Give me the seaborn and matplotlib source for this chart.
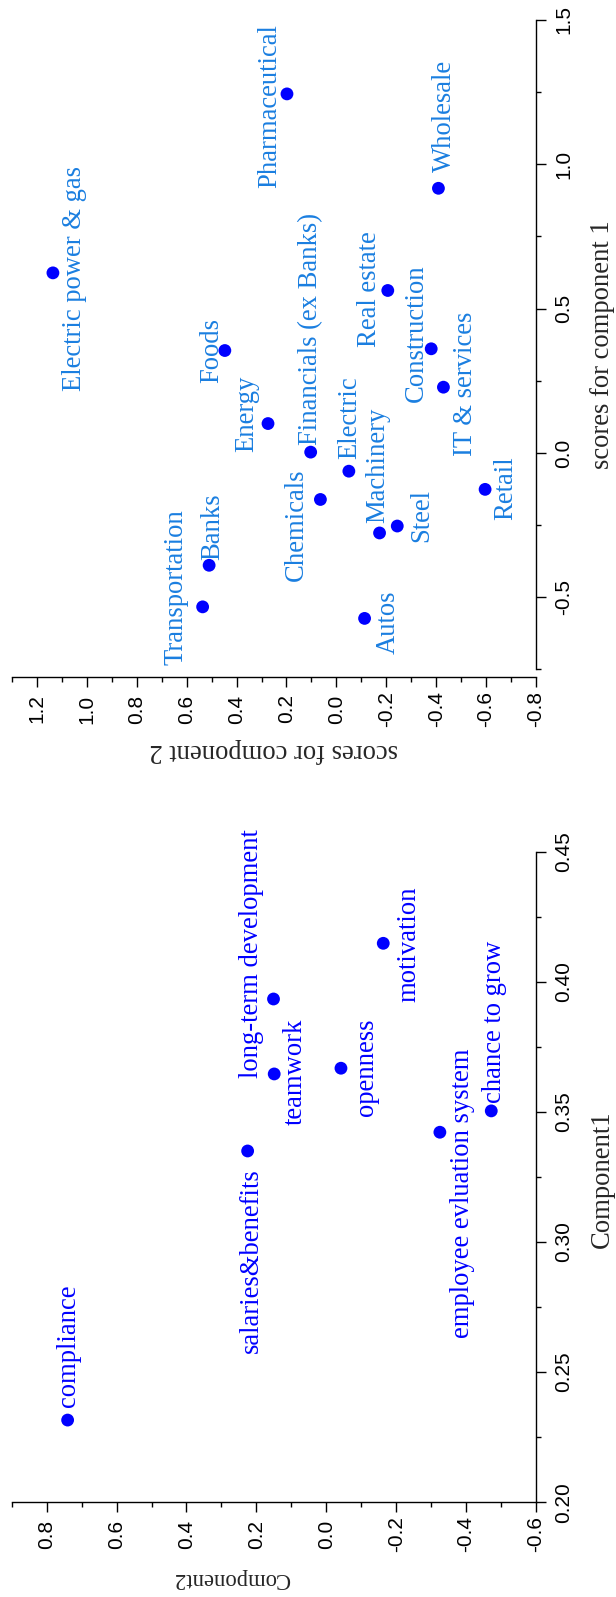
import seaborn as sns
import matplotlib.pyplot as plt
import matplotlib.ticker as mticker
import pandas as pd

sns.set_theme(style='white')
plt.rcParams['font.family'] = ['Liberation Serif', 'DejaVu Serif']
plt.rcParams['axes.unicode_minus'] = False

# industry scores (upper panel)
industries = ['Electric power & gas', 'Pharmaceutical', 'Foods', 'Wholesale', 'Real estate',
              'Construction', 'IT & services', 'Energy', 'Financials (ex Banks)', 'Chemicals',
              'Electric', 'Machinery', 'Steel', 'Retail', 'Autos', 'Transportation', 'Banks']
ind_comp1 = [0.624, 1.244, 0.355, 0.917, 0.563, 0.361, 0.228, 0.102, 0.003, -0.161,
             -0.063, -0.277, -0.253, -0.126, -0.573, -0.533, -0.389]
ind_comp2 = [1.136, 0.198, 0.447, -0.409, -0.206, -0.38, -0.429, 0.274, 0.103, 0.064,
             -0.05, -0.173, -0.244, -0.596, -0.113, 0.536, 0.51]

# factor loadings (lower panel)
factors = ['compliance', 'salaries&benefits', 'teamwork', 'long-term development', 'openness',
           'motivation', 'employee evluation system', 'chance to grow']
fac_comp1 = [0.2316, 0.335, 0.3646, 0.3934, 0.3668, 0.4148, 0.3422, 0.3504]
fac_comp2 = [0.74, 0.225, 0.149, 0.151, -0.042, -0.163, -0.325, -0.472]

# tick values / labels
top_h_ticks = [1.2, 1.0, 0.8, 0.6, 0.4, 0.2, 0.0, -0.2, -0.4, -0.6, -0.8]
top_h_labels = ['1.2', '1.0', '0.8', '0.6', '0.4', '0.2', '0.0', '-0.2', '-0.4', '-0.6', '-0.8']
top_v_ticks = [-0.5, 0.0, 0.5, 1.0, 1.5]
top_v_labels = ['-0.5', '0.0', '0.5', '1.0', '1.5']
bot_h_ticks = [0.8, 0.6, 0.4, 0.2, 0.0, -0.2, -0.4, -0.6]
bot_h_labels = ['0.8', '0.6', '0.4', '0.2', '0.0', '-0.2', '-0.4', '-0.6']
bot_v_ticks = [0.20, 0.25, 0.30, 0.35, 0.40, 0.45]
bot_v_labels = ['0.20', '0.25', '0.30', '0.35', '0.40', '0.45']

# label offsets in pixels (dx right, dy up) from each point
ind_offsets = {
    'Electric power & gas': (22, -6), 'Pharmaceutical': (-17, -12), 'Foods': (-13, 0),
    'Wholesale': (6, 72), 'Real estate': (-18, 1), 'Construction': (-15, 16),
    'IT & services': (22, 3), 'Energy': (-21, 10), 'Financials (ex Banks)': (0, 123),
    'Chemicals': (-24, -25), 'Electric': (1, 53), 'Machinery': (-2, 68), 'Steel': (24, 11),
    'Retail': (21, 1), 'Autos': (24, -4), 'Transportation': (-27, 20), 'Banks': (4, 39),
}
fac_offsets = {
    'compliance': (1, 74), 'salaries&benefits': (4, -110), 'teamwork': (21, 2),
    'long-term development': (-22, 45), 'openness': (26, 1), 'motivation': (26, -1),
    'employee evluation system': (23, -61), 'chance to grow': (3, 89),
}

fig = plt.figure(figsize=(6.16, 15.97), dpi=100)
ax1 = fig.add_axes([12 / 616, 1 - 677 / 1597, 524 / 616, 657 / 1597])
ax2 = fig.add_axes([11.7 / 616, 1 - 1502.3 / 1597, 524.3 / 616, 650.6 / 1597])

df_ind = pd.DataFrame({'name': industries, 'c1': ind_comp1, 'c2': ind_comp2})
df_fac = pd.DataFrame({'name': factors, 'c1': fac_comp1, 'c2': fac_comp2})

sns.scatterplot(data=df_ind, x='c2', y='c1', ax=ax1, color='#0000ff', s=85, edgecolor='none')
sns.scatterplot(data=df_fac, x='c2', y='c1', ax=ax2, color='#0000ff', s=85, edgecolor='none')

for _, r in df_ind.iterrows():
    dx, dy = ind_offsets[r['name']]
    ax1.annotate(r['name'], (r['c2'], r['c1']), xytext=(dx, dy), textcoords='offset pixels',
                 rotation=90, ha='center', va='center', fontsize=19.2, color='#1a7ee0')
for _, r in df_fac.iterrows():
    dx, dy = fac_offsets[r['name']]
    ax2.annotate(r['name'], (r['c2'], r['c1']), xytext=(dx, dy), textcoords='offset pixels',
                 rotation=90, ha='center', va='center', fontsize=19.2, color='#0000ff')


def style(ax, xlim, ylim, hticks, hlabels, hminor, vticks, vlabels, vminor, vbounds):
    ax.set_xlim(*xlim)
    ax.set_ylim(*ylim)
    for s in ['left', 'top']:
        ax.spines[s].set_visible(False)
    for s in ['bottom', 'right']:
        ax.spines[s].set_color('black')
        ax.spines[s].set_linewidth(1.0)
    ax.spines['right'].set_bounds(*vbounds)
    ax.yaxis.tick_right()
    ax.yaxis.set_label_position('right')
    ax.set_xticks(hticks)
    ax.set_xticklabels(hlabels)
    ax.set_yticks(vticks)
    ax.set_yticklabels(vlabels)
    ax.xaxis.set_minor_locator(mticker.MultipleLocator(hminor))
    ax.yaxis.set_minor_locator(mticker.MultipleLocator(vminor))
    ax.tick_params(which='both', direction='out', color='black', width=1.0,
                   labelsize=15, labelcolor='black')
    ax.tick_params(which='major', length=7)
    ax.tick_params(which='minor', length=3.5)
    ax.tick_params(axis='x', which='both', bottom=True, top=False, pad=16)
    ax.tick_params(axis='y', which='both', right=True, left=False, pad=6)
    for lbl in ax.get_xticklabels():
        lbl.set_rotation(90)
        lbl.set_va('center')
        lbl.set_ha('center')
        lbl.set_family('Liberation Sans')
    for lbl in ax.get_yticklabels():
        lbl.set_rotation(90)
        lbl.set_va('center')
        lbl.set_ha('left')
        lbl.set_family('Liberation Sans')
    ax.grid(False)


style(ax1, (1.3, -0.8), (-0.776, 1.5), top_h_ticks, top_h_labels, 0.1,
      top_v_ticks, top_v_labels, 0.25, (-0.75, 1.5))
style(ax2, (0.9, -0.6), (0.2, 0.45), bot_h_ticks, bot_h_labels, 0.1,
      bot_v_ticks, bot_v_labels, 0.025, (0.2, 0.45))

ax1.set_xlabel('scores for component 2', fontsize=19.2, rotation=180, va='center', ha='center')
ax1.xaxis.set_label_coords(0.499, -0.1126)
ax1.set_ylabel('scores for component 1', fontsize=19.2, rotation=90, va='center', ha='center')
ax1.yaxis.set_label_coords(1.1273, 0.506)

ax2.set_xlabel('Component2', fontsize=16.3, rotation=180, va='center', ha='center')
ax2.xaxis.set_label_coords(0.4196, -0.1164)
ax2.set_ylabel('Component1', fontsize=19.2, rotation=90, va='center', ha='center')
ax2.yaxis.set_label_coords(1.127, 0.497)

fig.savefig('out.png', dpi=100, facecolor='white')
